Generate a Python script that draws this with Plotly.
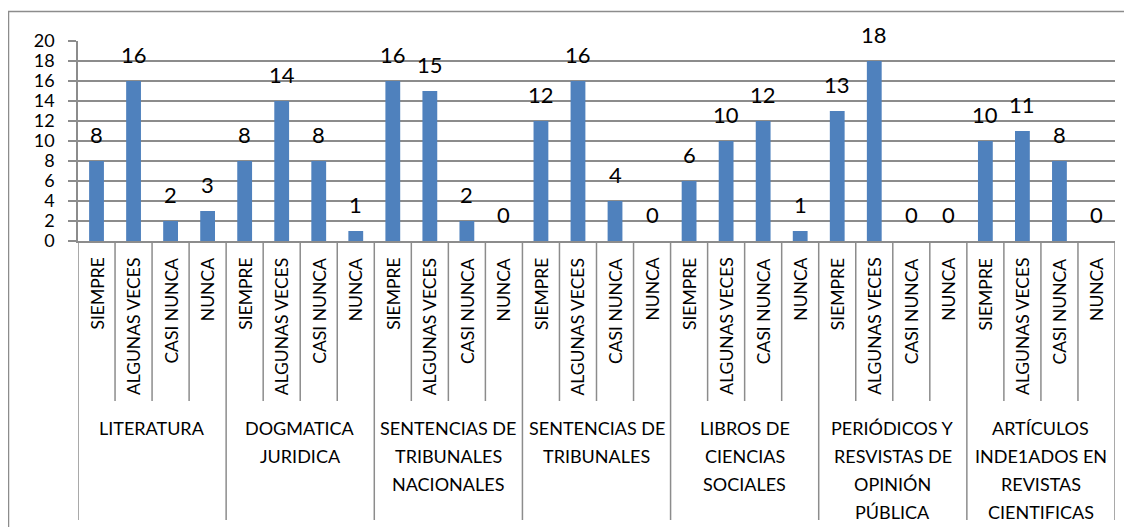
import plotly.graph_objects as go

# ---------------- data ----------------
answers = ["SIEMPRE", "ALGUNAS VECES", "CASI NUNCA", "NUNCA"]
groups = [
    ["LITERATURA"],
    ["DOGMATICA", "JURIDICA"],
    ["SENTENCIAS DE", "TRIBUNALES", "NACIONALES"],
    ["SENTENCIAS DE", "TRIBUNALES"],
    ["LIBROS DE", "CIENCIAS", "SOCIALES"],
    ["PERIÓDICOS Y", "RESVISTAS DE", "OPINIÓN", "PÚBLICA"],
    ["ARTÍCULOS", "INDE1ADOS EN", "REVISTAS", "CIENTIFICAS"],
]
literatura = [8, 16, 2, 3]
dogmatica = [8, 14, 8, 1]
sent_nacionales = [16, 15, 2, 0]
sent_tribunales = [12, 16, 4, 0]
libros = [6, 10, 12, 1]
periodicos = [13, 18, 0, 0]
articulos = [10, 11, 8, 0]
y_ticks = [0, 2, 4, 6, 8, 10, 12, 14, 16, 18, 20]

series = [literatura, dogmatica, sent_nacionales, sent_tribunales, libros, periodicos, articulos]
values = [v for s in series for v in s]
cats = [a for _ in groups for a in answers]
xpos = list(range(len(values)))

# ---------------- layout constants ----------------
OFF = 8                       # default page body margin
W, H = 1132 - OFF, 527 - OFF  # figure size
PL, PR, PT, PB = 78, 1115, 41, 241   # plot area in page pixels
L, T = PL - OFF, PT - OFF
R = W - (PR - OFF)
B = H - (PB - OFF)
PW, PH = PR - PL, PB - PT
FONT = "Lato, 'Open Sans', sans-serif"
GRAY = "#8c8c8c"


def px_x(px):
    return (px - PL) / PW


def px_y(py):
    return (PB - py) / PH


fig = go.Figure(
    go.Bar(x=xpos, y=values, width=0.4, marker=dict(color="#4F81BD", line=dict(width=0)),
           hoverinfo="skip")
)

annotations = []
# data labels
for x, v in zip(xpos, values):
    annotations.append(dict(x=x, y=v, xref="x", yref="y", text=str(v), showarrow=False,
                            xanchor="center", yanchor="bottom", yshift=11,
                            font=dict(family=FONT, size=22, color="black")))
# category labels (rotated)
for x, c in zip(xpos, cats):
    annotations.append(dict(x=x, y=px_y(256), xref="x", yref="paper", text=c, showarrow=False,
                            textangle=-90, xanchor="center", yanchor="top",
                            font=dict(family=FONT, size=17.5, color="black")))
# group labels
n = len(answers)
for g, lines in enumerate(groups):
    for j, line in enumerate(lines):
        annotations.append(dict(x=g * n + (n - 1) / 2, y=px_y(428 + 28 * j), xref="x", yref="paper",
                                text=line, showarrow=False, xanchor="center", yanchor="middle",
                                font=dict(family=FONT, size=18, color="black")))

shapes = []
for k in range(len(values) + 1):
    bottom = 520 if k % n == 0 else 401
    shapes.append(dict(type="line", xref="x", yref="paper", x0=k - 0.5, x1=k - 0.5,
                       y0=0, y1=px_y(bottom), line=dict(color=GRAY, width=1.5)))
# chart border
shapes.append(dict(type="rect", xref="paper", yref="paper", x0=px_x(8.5), x1=px_x(1145),
                   y0=px_y(540), y1=px_y(11.5), line=dict(color=GRAY, width=1.5)))

fig.update_layout(
    width=W, height=H,
    margin=dict(l=L, r=R, t=T, b=B, pad=0),
    paper_bgcolor="white", plot_bgcolor="white",
    showlegend=False,
    annotations=annotations,
    shapes=shapes,
    xaxis=dict(range=[-0.5, len(values) - 0.5], showticklabels=False, showgrid=False,
               zeroline=False, showline=True, linecolor=GRAY, linewidth=1.5, ticks=""),
    yaxis=dict(range=[0, 20], tickvals=y_ticks, showgrid=True, gridcolor=GRAY, gridwidth=1.5,
               zeroline=False, showline=True, linecolor=GRAY, linewidth=1.5,
               ticks="outside", ticklen=8, tickcolor=GRAY, tickwidth=1.5,
               ticklabelstandoff=10,
               tickfont=dict(family=FONT, size=18, color="black")),
)

fig.write_html("out.html")
